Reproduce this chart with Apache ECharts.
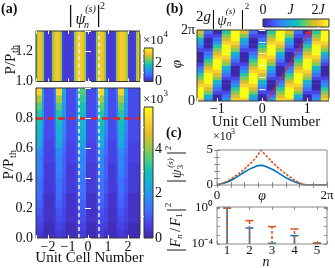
<!DOCTYPE html>
<html><head><meta charset="utf-8">
<script src="https://cdn.jsdelivr.net/npm/echarts@6/dist/echarts.min.js"></script>
<style>html,body{margin:0;padding:0;background:#fff}#c{width:335px;height:268px}</style>
</head><body><div id="c"></div>
<script>
const PI = Math.PI;
// ---------- data ----------
// (a) unit-cell coordinate of each column (centres, 0.1 wide)
const aCols = [-2.55,-2.45,-2.35,-2.25,-2.15,-2.05,-1.95,-1.85,-1.75,-1.65,-1.55,-1.45,-1.35,-1.25,-1.15,-1.05,-0.95,-0.85,-0.75,-0.65,-0.55,-0.45,-0.35,-0.25,-0.15,-0.05,0.05,0.15,0.25,0.35,0.45,0.55,0.65,0.75,0.85,0.95,1.05,1.15,1.25,1.35,1.45,1.55,1.65,1.75,1.85,1.95,2.05,2.15,2.25,2.35,2.45,2.55];
// (a) upper map, P/Pth from 1.0 to 1.34, |psi|^2 in units of 1e4
const aTopP = [1.0, 1.34];
const aTopVals = [2.5,3.0,3.0,2.5, 0.3,0.25,0.25,0.3, 2.5,3.0,3.1,3.0,2.5, 0.3,0.25,0.25,0.25,0.25,0.3, 2.5,3.0,3.1,3.1,3.0,2.5, 0.3,0.25,0.25,0.25,0.3, 2.5,3.0,3.1,3.0,2.5, 0.3,0.25,0.25,0.25,0.3, 2.5,3.0,3.1,3.1,3.0,2.5, 0.3,0.25,0.25,0.3, 2.5,3.0];
// (a) lower map: column kind per column, and per P band the value (1e3) of each kind [Y,G,L,M,D]
const aBotColTypes = 'YYYL'+'DDDDD'+'M'+'YYY'+'LL'+'DDDDD'+'M'+'GGGG'+'DDDDD'+'M'+'YYY'+'LL'+'DDDD'+'M'+'YYY'+'LL'+'DDDDDD';
const aBotP = [0.975,0.925,0.875,0.825,0.775,0.725,0.675,0.625,0.575,0.525,0.475,0.425,0.375,0.325,0.275,0.225,0.175,0.125,0.075,0.025];
const aBotRows = [
 [5.25,3.6,2.25,1.65,0.75],[4.2,3.3,2.1,1.5,0.75],[3.6,3.0,1.95,1.35,0.75],[3.15,2.85,1.8,1.35,0.75],
 [3.0,2.7,1.8,1.2,0.75],[2.7,2.55,1.65,1.2,0.75],[2.55,2.4,1.5,1.05,0.75],[2.4,2.25,1.35,1.05,0.6],
 [1.8,1.8,1.2,0.9,0.6],[1.65,1.65,1.05,0.9,0.6],[1.65,1.65,1.05,0.75,0.45],[1.5,1.5,1.05,0.75,0.45],
 [1.35,1.35,0.9,0.75,0.45],[1.35,1.35,0.9,0.6,0.45],[1.2,1.2,0.75,0.6,0.3],[1.05,1.05,0.75,0.6,0.3],
 [0.9,0.9,0.6,0.45,0.3],[0.75,0.75,0.6,0.45,0.3],[0.6,0.6,0.45,0.45,0.15],[0.45,0.45,0.3,0.3,0.15]];
const aDashX = [-0.45, 0.53];
const aRedP = 0.8;
// (b) columns (0.2 wide), phi rows (units of pi), values in J for the 5 sites of a cell
const bCols = [-1.4,-1.2,-1.0,-0.8,-0.6,-0.4,-0.2,0,0.2,0.4,0.6,0.8,1.0,1.2,1.4];
const bPhi = [0.05,0.15,0.25,0.35,0.45,0.55,0.65,0.75,0.85,0.95,1.05,1.15,1.25,1.35,1.45,1.55,1.65,1.75,1.85,1.95];
const bRows = [
 [2.13,0.8,0,0.8,2.13],[2.4,1.07,0,0.53,1.87],[2.4,1.6,0.27,0.27,1.6],[2.4,1.87,0.53,0,1.33],
 [2.13,2.13,0.8,0,0.8],[1.87,2.4,1.07,0,0.53],[1.6,2.4,1.6,0.27,0.27],[1.33,2.4,1.87,0.53,0],
 [0.8,2.13,2.13,0.8,0],[0.53,1.87,2.4,1.07,0],[0.27,1.6,2.4,1.6,0.27],[0,1.33,2.4,1.87,0.53],
 [0,0.8,2.13,2.13,0.8],[0,0.53,1.87,2.4,1.07],[0.27,0.27,1.6,2.4,1.6],[0.53,0,1.33,2.4,1.87],
 [0.8,0,0.8,2.13,2.13],[1.07,0,0.53,1.87,2.4],[1.6,0.27,0.27,1.6,2.4],[1.87,0.53,0,1.33,2.4]];
const bCellX = [-0.49, 0.5];
const bArrow = [[0.1, 0], [1.08, 2]]; // [x, phi/pi]
// (c) upper: phi (units of pi), |psi_3|^2 (1e3)
const cPhi = [0,0.1,0.2,0.3,0.4,0.5,0.6,0.7,0.8,0.9,1.0,1.1,1.2,1.3,1.4,1.5,1.6,1.7,1.8,1.9,2.0];
const cBlue = [0,0.2,0.45,0.85,1.35,1.85,2.3,2.65,2.8,2.62,2.25,1.8,1.3,0.85,0.5,0.22,0.04,0,0,0,0.02];
const cRed  = [0,0.25,0.62,1.1,1.65,2.3,3.0,3.8,4.95,4.15,3.3,2.55,1.9,1.3,0.75,0.3,0.05,0,0,0,0];
// (c) lower: harmonic n, |F_n/F_1|^2
const nVals = [1,2,3,4,5];
const fBlue = [1, 6.0e-3, 1.2e-4, 8.5e-4, 1.2e-4];
const fRed  = [1, 4.0e-2, 8.5e-3, 4.7e-3, 1.3e-4];
const fFloor = 1e-4;

// ---------- style ----------
const F = 'Liberation Serif', INK = '#111';
const PARULA = ['#3E26A8','#4741E5','#4269FE','#2D8CF3','#1CA9DF','#12BEB9','#4ACB84','#9DC943','#E6BB2D','#FAD62D','#F9FB15'];
const stops = PARULA.map((c,i)=>({offset:i/(PARULA.length-1), color:c}));
const BLUE = '#0072BD', ORANGE = '#D95319', RED = '#E3262A';

// ---------- build tables ----------
const aTopData = aCols.map((x,i)=>[x-0.05, x+0.05, aTopP[0], aTopP[1], aTopVals[i]]);
const kind = {Y:0,G:1,L:2,M:3,D:4};
const aBotData = [];
aBotP.forEach((p,r)=>aCols.forEach((x,c)=>aBotData.push([x-0.05,x+0.05,p-0.025,p+0.025,aBotRows[r][kind[aBotColTypes[c]]]])));
const bData = [];
bPhi.forEach((ph,r)=>bCols.forEach((x,k)=>bData.push([x-0.1,x+0.1,(ph-0.05)*PI,(ph+0.05)*PI,bRows[r][k%5]])));

function cellItem(params, api){
  const a = api.coord([api.value(0), api.value(3)]);
  const b = api.coord([api.value(1), api.value(2)]);
  const cs = params.coordSys;
  const shape = echarts.graphic.clipRectByRect({x:a[0],y:a[1],width:b[0]-a[0]+0.5,height:b[1]-a[1]+0.5},{x:cs.x,y:cs.y,width:cs.width,height:cs.height});
  return shape ? {type:'rect', shape, style:{fill:api.visual('color')}} : null;
}
function barItem(vertical){
  return function(params, api){
    const a = api.coord([api.value(0), api.value(3)]);
    const b = api.coord([api.value(1), api.value(2)]);
    return {type:'rect', shape:{x:a[0],y:a[1],width:b[0]-a[0],height:b[1]-a[1]},
      style:{fill:new echarts.graphic.LinearGradient(0, vertical?1:0, vertical?0:1, 0, stops)}};
  };
}
function stemItem(color, dash){
  return function(params, api){
    const b = api.coord([api.value(0), fFloor]);
    const t = api.coord([api.value(0), api.value(1)]);
    return {type:'group', children:[
      {type:'line', shape:{x1:b[0],y1:b[1],x2:t[0],y2:t[1]}, style:{stroke:color,lineWidth:1.5,lineDash:dash}},
      {type:'line', shape:{x1:t[0]-4,y1:t[1],x2:t[0]+4,y2:t[1]}, style:{stroke:color,lineWidth:1.5}}]};
  };
}

// ---------- axes ----------
const near = (a,b)=>Math.abs(a-b)<1e-6;
const tickW = {show:true, inside:true, length:3, lineStyle:{color:'#fff', width:1}};
const tickG = {show:true, inside:true, length:3, lineStyle:{color:'#777', width:0.8}};
const noSplit = {show:false};
function lab(fmt, size, margin, rich){ return {show:true, formatter:fmt, fontFamily:F, fontSize:size, color:INK, margin, rich:rich||{}}; }
const intFmt = v => near(v, Math.round(v)) ? String(Math.round(v)).replace('-', '\u2212') : '';
function ax(o){ return Object.assign({type:'value', axisLine:{show:false}, splitLine:noSplit, axisLabel:{show:false}, z:12}, o); }

const grids = [
  {left:36, top:31, width:104, height:50.5},
  {left:36, top:88, width:104, height:150},
  {left:144, top:48, width:9, height:33.5},
  {left:144, top:107, width:9, height:131},
  {left:197, top:30, width:132, height:71},
  {left:263, top:19, width:66, height:8},
  {left:217, top:150, width:110, height:35, borderColor:'#888'},
  {left:217, top:207, width:110, height:37, borderColor:'#888'}
].map(g=>Object.assign({show:true, borderColor:'#333', borderWidth:1, backgroundColor:'transparent', z:11, outerBoundsMode:'none', containLabel:false}, g));

const jRich = {i:{fontFamily:F, fontSize:14, fontStyle:'italic', color:INK}};

const xAxis = [
  ax({gridIndex:0, position:'bottom', min:-2.6, max:2.6, minInterval:1, maxInterval:1, axisTick:tickW}),
  ax({gridIndex:0, position:'top', min:-2.6, max:2.6, minInterval:1, maxInterval:1, axisTick:tickW}),
  ax({gridIndex:1, position:'bottom', min:-2.6, max:2.6, minInterval:1, maxInterval:1, axisTick:tickW, axisLabel:lab(intFmt,14,2)}),
  ax({gridIndex:1, position:'top', min:-2.6, max:2.6, minInterval:1, maxInterval:1, axisTick:tickW}),
  ax({gridIndex:2, min:0, max:1, show:false}),
  ax({gridIndex:3, min:0, max:1, show:false}),
  ax({gridIndex:4, position:'bottom', min:-1.45, max:1.483, minInterval:1, maxInterval:1, axisTick:tickW, axisLabel:lab(intFmt,14,1)}),
  ax({gridIndex:4, position:'top', min:-1.45, max:1.483, minInterval:1, maxInterval:1, axisTick:tickW}),
  ax({gridIndex:5, position:'top', min:0, max:2.4, interval:1, axisTick:{show:true,inside:true,length:2,lineStyle:{color:'#fff'}},
      axisLabel:lab(v=>near(v,0)?'0':near(v,1)?'{i|J}':near(v,2)?'2{i|J}':'',14,2,jRich)}),
  ax({gridIndex:6, position:'bottom', min:0, max:2*PI, interval:PI/4, axisTick:tickG, axisLabel:lab(v=>near(v,0)?'0':near(v,2*PI)?'2\u03c0':'',13,4)}),
  ax({gridIndex:6, position:'top', min:0, max:2*PI, interval:PI/4, axisTick:tickG}),
  ax({gridIndex:7, position:'bottom', min:0.55, max:5.45, minInterval:1, maxInterval:1, axisTick:tickG, axisLabel:lab(intFmt,13,0)}),
  ax({gridIndex:7, position:'top', min:0.55, max:5.45, minInterval:1, maxInterval:1, axisTick:tickG})
];
const logFmt = v => { const e = Math.log10(v); if (!near(e, Math.round(e))) return ''; const r = Math.round(e);
  return r===0 ? '10\u2070' : r===-4 ? '10\u207b\u2074' : ''; };
const yAxis = [
  ax({gridIndex:0, position:'left', min:1.0, max:1.337, interval:0.2, axisTick:tickW, axisLabel:lab(v=>(near(v,1)||near(v,1.2))?v.toFixed(1):'',14,3)}),
  ax({gridIndex:0, position:'right', min:1.0, max:1.337, interval:0.2, axisTick:tickW}),
  ax({gridIndex:1, position:'left', min:0, max:1, interval:0.2, axisTick:tickW, axisLabel:lab(v=>v<0.85?v.toFixed(1):'',14,3)}),
  ax({gridIndex:1, position:'right', min:0, max:1, interval:0.2, axisTick:tickW}),
  ax({gridIndex:2, position:'right', min:0, max:3.6, interval:1, axisTick:{show:true,inside:true,length:2,lineStyle:{color:'#fff'}}, axisLabel:lab(v=>(near(v,0)||near(v,2))?String(Math.round(v)):'',14,2)}),
  ax({gridIndex:3, position:'right', min:0, max:5.9, interval:1, axisTick:{show:true,inside:true,length:2,lineStyle:{color:'#fff'}}, axisLabel:lab(v=>(near(v,0)||near(v,2)||near(v,4))?String(Math.round(v)):'',14,2)}),
  ax({gridIndex:4, position:'left', min:0, max:2*PI, interval:PI/3, axisTick:tickW, axisLabel:lab(v=>near(v,0)?'0':near(v,2*PI)?'2\u03c0':'',14,2)}),
  ax({gridIndex:4, position:'right', min:0, max:2*PI, interval:PI/3, axisTick:tickW}),
  ax({gridIndex:5, min:0, max:1, show:false}),
  ax({gridIndex:6, position:'left', min:0, max:5, interval:1, axisTick:tickG, axisLabel:lab(v=>(near(v,0)||near(v,5))?String(Math.round(v)):'',13,4)}),
  ax({gridIndex:6, position:'right', min:0, max:5, interval:1, axisTick:tickG}),
  ax({gridIndex:7, type:'log', position:'left', min:1e-4, max:1.3, axisTick:tickG, axisLabel:lab(logFmt,13,4)}),
  ax({gridIndex:7, type:'log', position:'right', min:1e-4, max:1.3, axisTick:tickG})
];

const cellEnc = {x:[0,1], y:[2,3]};
const whiteDash = {color:'#f2f2f2', width:1.5, type:[4,3]};
const series = [
  {type:'custom', xAxisIndex:0, yAxisIndex:0, renderItem:cellItem, encode:cellEnc, data:aTopData, silent:true},
  {type:'custom', xAxisIndex:2, yAxisIndex:2, renderItem:cellItem, encode:cellEnc, data:aBotData, silent:true},
  {type:'custom', xAxisIndex:4, yAxisIndex:4, renderItem:barItem(true), encode:cellEnc, data:[[0,1,0,3.6]], silent:true},
  {type:'custom', xAxisIndex:5, yAxisIndex:5, renderItem:barItem(true), encode:cellEnc, data:[[0,1,0,5.9]], silent:true},
  {type:'custom', xAxisIndex:6, yAxisIndex:6, renderItem:cellItem, encode:cellEnc, data:bData, silent:true},
  {type:'custom', xAxisIndex:8, yAxisIndex:8, renderItem:barItem(false), encode:cellEnc, data:[[0,2.4,0,1]], silent:true},
  {type:'line', xAxisIndex:9, yAxisIndex:9, data:cPhi.map((p,i)=>[p*PI,cBlue[i]]), showSymbol:false, smooth:0.3, lineStyle:{color:BLUE,width:1.6}, z:3},
  {type:'line', xAxisIndex:9, yAxisIndex:9, data:cPhi.map((p,i)=>[p*PI,cRed[i]]), showSymbol:false, lineStyle:{color:ORANGE,width:1.6,type:[2.5,1.5]}, z:4},
  {type:'custom', xAxisIndex:11, yAxisIndex:11, renderItem:stemItem(BLUE,null), encode:{x:0,y:1}, data:nVals.map((n,i)=>[n,fBlue[i]]), z:3, silent:true},
  {type:'custom', xAxisIndex:11, yAxisIndex:11, renderItem:stemItem(ORANGE,[3,2]), encode:{x:0,y:1}, data:nVals.map((n,i)=>[n,fRed[i]]), z:4, silent:true},
  {type:'line', xAxisIndex:0, yAxisIndex:0, data:[[0,1.1]], showSymbol:false, lineStyle:{opacity:0}, z:13, silent:true,
   markLine:{silent:true, symbol:['none','none'], label:{show:false}, lineStyle:whiteDash, data:aDashX.map(x=>({xAxis:x}))}},
  {type:'line', xAxisIndex:2, yAxisIndex:2, data:[[0,0.5]], showSymbol:false, lineStyle:{opacity:0}, z:13, silent:true,
   markLine:{silent:true, symbol:['none','none'], label:{show:false}, lineStyle:whiteDash,
     data:aDashX.map(x=>({xAxis:x})).concat([{yAxis:aRedP, lineStyle:{color:RED,width:2.5,type:[7,4]}}])}},
  {type:'line', xAxisIndex:6, yAxisIndex:6, data:[[0,1]], showSymbol:false, lineStyle:{opacity:0}, z:13, silent:true,
   markArea:{silent:true, itemStyle:{color:'rgba(0,0,0,0)', borderColor:'#fff', borderWidth:1.5, borderType:[4,3]},
     data:[[{xAxis:bCellX[0], yAxis:0},{xAxis:bCellX[1], yAxis:2*PI}]]},
   markLine:{silent:true, symbol:['none','arrow'], symbolSize:6, label:{show:false}, lineStyle:{color:RED,width:1.2,type:'solid'},
     data:[[{coord:[bArrow[0][0], bArrow[0][1]*PI]},{coord:[bArrow[1][0], bArrow[1][1]*PI]}]]}}
];

const visualMap = [
  {type:'continuous', show:false, seriesIndex:0, dimension:4, min:0, max:3.6, inRange:{color:PARULA}},
  {type:'continuous', show:false, seriesIndex:1, dimension:4, min:0, max:5.9, inRange:{color:PARULA}},
  {type:'continuous', show:false, seriesIndex:4, dimension:4, min:0, max:2.4, inRange:{color:PARULA}}
];

// ---------- text ----------
function T(x, y, text, size, o){ o=o||{};
  return {type:'text', x, y, silent:true, z:20, style:{text, fontFamily:F, fontSize:size, fontStyle:o.it?'italic':'normal', fontWeight:o.bold?'bold':'normal',
    fill:INK, align:o.align||'center', textAlign:o.align||'center', verticalAlign:o.va||'middle', textVerticalAlign:o.va||'middle', rich:o.rich}}; }
function G(x, y, rot, children){ return {type:'group', x, y, rotation:rot, silent:true, children}; }
const R = PI/2;
const graphic = [
  T(1,2,'(a)',14,{bold:true,align:'left',va:'top'}),
  T(166,2,'(b)',14,{bold:true,align:'left',va:'top'}),
  T(166,126,'(c)',14,{bold:true,align:'left',va:'top'}),
  // title a
  T(70.5,15.5,'|',26), T(80.5,20,'\u03c8',16,{it:true}), T(90.5,9,'(s)',10,{it:true}), T(86.5,25,'n',10,{it:true}),
  T(98.5,15.5,'|',26), T(102.5,6,'2',10),
  // title b
  T(203.5,17.5,'2{i|g}',15,{rich:{i:{fontFamily:F,fontSize:15,fontStyle:'italic',fill:INK,color:INK}}}),
  T(213.5,18.5,'|',22), T(222,21,'\u03c8',15,{it:true}), T(230.5,12,'(s)',9,{it:true}), T(229,24,'n',9,{it:true}),
  T(242.5,18.5,'|',22), T(247,6.5,'2',9),
  // colorbar multipliers
  T(143,41,'\u00d710',13,{align:'left'}), T(163.5,35,'4',9,{align:'left'}),
  T(143,100,'\u00d710',13,{align:'left'}), T(163.5,94,'3',9,{align:'left'}),
  T(213,137,'\u00d710',12,{align:'left'}), T(231,132,'3',8,{align:'left'}),
  // axis names
  G(11,60,R,[T(-4,0,'P/P',15), T(11,4,'th',10)]),
  G(9,165,R,[T(-4,0,'P/P',15), T(11,4,'th',10)]),
  T(89.5,258,'Unit Cell Number',15),
  T(266,122,'Unit Cell Number',15),
  G(177,64,R,[T(0,0,'\u03c6',15,{it:true})]),
  T(262,196,'\u03c6',14,{it:true}),
  T(266,262,'n',14,{it:true}),
  G(176,165,R,[T(-16,0,'|',20), T(-9,1,'\u03c8',14,{it:true}), T(2,-5,'(s)',9,{it:true}), T(-2,5,'3',9),
               T(12,0,'|',20), T(17,-7,'2',9)]),
  G(176,224,R,[T(-26,0,'|',20), T(-19,0,'F',14,{it:true}), T(-12.5,4,'n',9,{it:true}), T(-6,0,'/',14),
               T(2,0,'F',14,{it:true}), T(8.5,4,'1',9), T(14,0,'|',20), T(19,-7,'2',9)])
];

const chart = echarts.init(document.getElementById('c'), null, {renderer:'canvas', width:335, height:268});
chart.setOption({animation:false, backgroundColor:'#fff', grid:grids, xAxis, yAxis, series, visualMap, graphic});
</script></body></html>
